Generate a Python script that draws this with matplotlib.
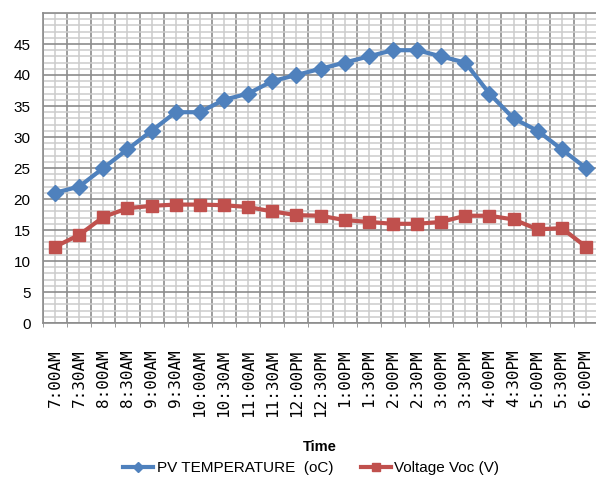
import numpy as np
import matplotlib.pyplot as plt
from matplotlib.ticker import MultipleLocator, FixedLocator

times = ['7:00AM', '7:30AM', '8:00AM', '8:30AM', '9:00AM', '9:30AM',
         '10:00AM', '10:30AM', '11:00AM', '11:30AM', '12:00PM', '12:30PM',
         '1:00PM', '1:30PM', '2:00PM', '2:30PM', '3:00PM', '3:30PM',
         '4:00PM', '4:30PM', '5:00PM', '5:30PM', '6:00PM']
pv_temp = [21, 22, 25, 28, 31, 34, 34, 36, 37, 39, 40, 41,
           42, 43, 44, 44, 43, 42, 37, 33, 31, 28, 25]
voc = [12.3, 14.2, 17.1, 18.5, 18.9, 19.1, 19.1, 19.0, 18.7, 18.0, 17.4, 17.3,
       16.6, 16.3, 16.0, 16.0, 16.3, 17.3, 17.3, 16.7, 15.1, 15.3, 12.3]

blue = '#4F81BD'
red = '#C0504D'

fig = plt.figure(figsize=(5.96, 4.90), dpi=100)
ax = fig.add_axes([43/596, 167/490, 555/596, 310/490])

x = np.arange(len(times))
ax.plot(x, pv_temp, color=blue, lw=3, marker='D', ms=8, label='PV TEMPERATURE  (oC)')
ax.plot(x, voc, color=red, lw=3, marker='s', ms=8.5, label='Voltage Voc (V)')

ax.set_xlim(-0.5, len(times) - 0.5)
ax.set_ylim(0, 50)

# category axis: labels at centres, gridlines on both boundaries and centres
ax.set_xticks(x)
ax.set_xticklabels(times, rotation=90, family='DejaVu Sans Mono', fontsize=11.5)
ax.xaxis.set_minor_locator(FixedLocator(np.arange(-0.5, len(times), 1)))
ax.set_yticks(np.arange(0, 50, 5))
ax.yaxis.set_minor_locator(MultipleLocator(1))

ax.grid(which='major', axis='x', color='#cccccc', lw=1.1)
ax.grid(which='minor', axis='x', color='#8c8c8c', lw=1.2)
ax.grid(which='major', axis='y', color='#8c8c8c', lw=1.2)
ax.grid(which='minor', axis='y', color='#cccccc', lw=1.1)
ax.set_axisbelow(True)

ax.tick_params(axis='x', which='major', length=0, pad=19)
ax.tick_params(axis='x', which='minor', length=3, color='#8c8c8c')
ax.tick_params(axis='y', which='both', length=0, pad=9, labelsize=11)
for lbl in ax.get_yticklabels():
    lbl.set_family('Liberation Sans')

ax.spines['right'].set_visible(False)
for s in ['left', 'bottom', 'top']:
    ax.spines[s].set_color('#8c8c8c')
    ax.spines[s].set_linewidth(1.2)

fig.text(320/596, 1 - 447/490, 'Time', ha='center', va='center',
         fontsize=10.5, fontweight='bold', family='Liberation Sans')
fig.legend(loc='center', bbox_to_anchor=(311/596, 1 - 468/490), ncol=2,
           frameon=False, handlelength=2.0, columnspacing=1.8, handletextpad=0.2,
           markerscale=0.7, prop={'family': 'Liberation Sans', 'size': 11})

fig.savefig('out.png', dpi=100)
